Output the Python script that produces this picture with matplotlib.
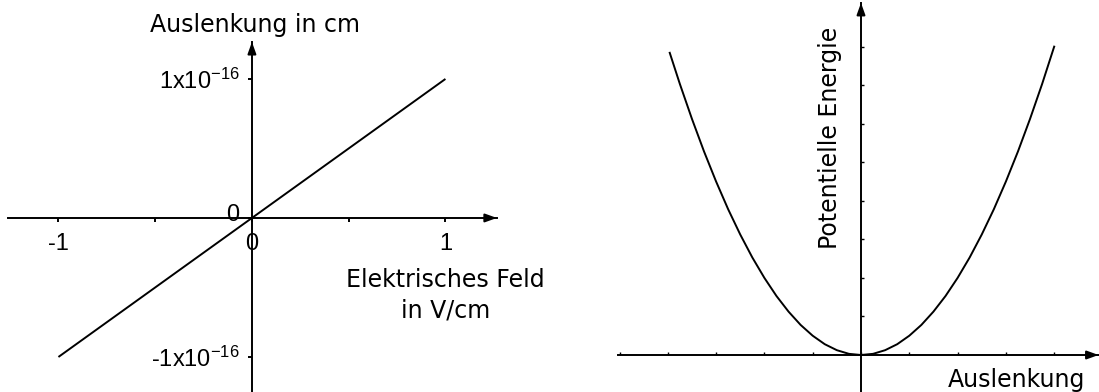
import matplotlib
matplotlib.use('Agg')
import matplotlib.pyplot as plt
from matplotlib.transforms import ScaledTranslation

plt.rcParams['font.family'] = 'DejaVu Sans'
plt.rcParams['mathtext.default'] = 'regular'
plt.rcParams['axes.unicode_minus'] = False

# linear response: displacement vs. electric field
feld = [-1.0, 1.0]
auslenkung_cm = [-1e-16, 1e-16]
feld_ticks = [-1, -0.5, 0, 0.5, 1]
feld_labels = ['-1', '', '0', '', '1']
ausl_ticks = [-1e-16, 0, 1e-16]
ausl_labels = ['-1x10$^{-16}$', '0', '1x10$^{-16}$']

# potential energy well
x_pot = [-3.96, -3.75, -3.5, -3.25, -3.0, -2.75, -2.5, -2.25, -2.0, -1.75, -1.5,
         -1.25, -1.0, -0.75, -0.5, -0.25, 0.0, 0.25, 0.5, 0.75, 1.0, 1.25, 1.5,
         1.75, 2.0, 2.25, 2.5, 2.75, 3.0, 3.25, 3.5, 3.75, 4.0]
e_pot = [15.68, 14.06, 12.25, 10.56, 9.0, 7.56, 6.25, 5.06, 4.0, 3.06, 2.25,
         1.56, 1.0, 0.56, 0.25, 0.06, 0.0, 0.06, 0.25, 0.56, 1.0, 1.56, 2.25,
         3.06, 4.0, 5.06, 6.25, 7.56, 9.0, 10.56, 12.25, 14.06, 16.0]
x_pot_ticks = [-5, -4, -3, -2, -1, 0, 1, 2, 3, 4]
e_pot_ticks = [2, 4, 6, 8, 10, 12, 14, 16]

LW = 1.4
HEAD = dict(arrowstyle='-|>,head_length=0.5,head_width=0.18', color='black',
            lw=LW, mutation_scale=14, shrinkA=0, shrinkB=0)


def cross_axes(ax, xstart, xtip, ystart, ytip):
    # axes through the origin, with arrow heads at the positive ends
    for side in ['top', 'right']:
        ax.spines[side].set_visible(False)
    for side in ['left', 'bottom']:
        ax.spines[side].set_position(('data', 0))
        ax.spines[side].set_linewidth(LW)
    ax.spines['bottom'].set_bounds(xstart, xtip)
    ax.spines['left'].set_bounds(ystart, ytip)
    ax.annotate('', xy=(xtip, 0), xytext=(xtip - (xtip - xstart) * 0.02, 0),
                arrowprops=HEAD, annotation_clip=False)
    ax.annotate('', xy=(0, ytip), xytext=(0, ytip - (ytip - ystart) * 0.02),
                arrowprops=HEAD, annotation_clip=False)
    ax.patch.set_visible(False)


fig = plt.figure(figsize=(10.99, 3.92), dpi=100)

# left panel
ax1 = fig.add_axes([0, 0, 500 / 1099, 1])
ax1.set_xlim(-1.302, 1.282)
ax1.set_ylim(-1.252e-16, 1.568e-16)
ax1.plot(feld, auslenkung_cm, color='black', lw=LW, solid_capstyle='butt')
cross_axes(ax1, -1.261, 1.266, -1.252e-16, 1.266e-16)
ax1.tick_params(axis='x', direction='out', length=3, width=LW, pad=8)
ax1.tick_params(axis='y', direction='out', length=3, width=LW, pad=6)
ax1.set_xticks(feld_ticks, feld_labels)
ax1.set_yticks(ausl_ticks, ausl_labels)
for lbl in ax1.get_xticklabels() + ax1.get_yticklabels():
    lbl.set_fontfamily('Liberation Sans')
    lbl.set_fontsize(17)
# the zero on the vertical axis sits a little above the horizontal axis
zero_lbl = ax1.get_yticklabels()[1]
zero_lbl.set_transform(zero_lbl.get_transform()
                       + ScaledTranslation(0, 0.05, fig.dpi_scale_trans))

ax1.text(0.015, 1.338e-16, 'Auslenkung in cm', fontsize=17, ha='center', va='baseline')
ax1.text(1.0, -0.496e-16, 'Elektrisches Feld', fontsize=17, ha='center', va='baseline')
ax1.text(1.0, -0.719e-16, 'in V/cm', fontsize=17, ha='center', va='baseline')

# right panel
ax2 = fig.add_axes([600 / 1099, 0, 499 / 1099, 1])
ax2.set_xlim(-5.404, 4.928)
ax2.set_ylim(-1.92, 18.42)
ax2.plot(x_pot, e_pot, color='black', lw=LW)
cross_axes(ax2, -5.03, 4.92, -1.92, 18.27)
ax2.set_xticks(x_pot_ticks)
ax2.set_xticklabels([])
ax2.set_yticks(e_pot_ticks)
ax2.set_yticklabels([])
ax2.tick_params(direction='in', length=2, width=1)
ax2.text(-0.642, 11.26, 'Potentielle Energie', fontsize=17, rotation=90,
         ha='center', va='center')
ax2.text(3.23, -1.66, 'Auslenkung', fontsize=17, ha='center', va='baseline')

fig.savefig('out.png', dpi=100)
